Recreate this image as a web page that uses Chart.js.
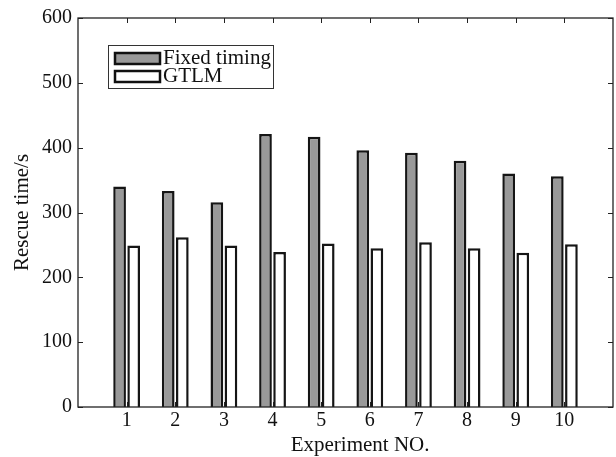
<!DOCTYPE html>
<html>
<head>
<meta charset="utf-8">
<script src="https://cdn.jsdelivr.net/npm/chart.js@4/dist/chart.umd.min.js"></script>
<style>
  html, body { margin: 0; padding: 0; background: #fff; }
  #wrap { width: 616px; height: 457px; }
</style>
</head>
<body>
<div id="wrap"><canvas id="rescueChart" width="616" height="457"></canvas></div>
<script>
const experiments = [1, 2, 3, 4, 5, 6, 7, 8, 9, 10];
const fixedTiming = [340, 333, 316, 421, 417, 396, 392, 380, 360, 356];
const gtlm = [249, 262, 249, 239, 252, 245, 254, 245, 238, 251];
const yTicks = [0, 100, 200, 300, 400, 500, 600];
const xTitle = 'Experiment NO.';

const FONT = 'Liberation Serif, Times New Roman, serif';

// box around the plot, MATLAB-style inward ticks, x label and the legend inside the axes
const axesBox = {
  id: 'axesBox',
  afterDraw(chart) {
    const { ctx, chartArea: a, scales: { x, y } } = chart;
    ctx.save();
    ctx.strokeStyle = '#222';
    ctx.lineWidth = 1.3;
    ctx.strokeRect(a.left, a.top, a.right - a.left, a.bottom - a.top);
    const len = 5;
    ctx.beginPath();
    yTicks.forEach(v => {
      const py = Math.round(y.getPixelForValue(v)) + 0.5;
      ctx.moveTo(a.left, py); ctx.lineTo(a.left + len, py);
      ctx.moveTo(a.right, py); ctx.lineTo(a.right - len, py);
    });
    experiments.forEach(v => {
      const px = Math.round(x.getPixelForValue(v)) + 0.5;
      ctx.moveTo(px, a.bottom); ctx.lineTo(px, a.bottom - len);
      ctx.moveTo(px, a.top); ctx.lineTo(px, a.top + len);
    });
    ctx.lineWidth = 1;
    ctx.stroke();

    // x axis label, sitting a little right of the axes centre
    ctx.font = '21px ' + FONT;
    ctx.fillStyle = '#111';
    ctx.textAlign = 'center';
    ctx.textBaseline = 'middle';
    ctx.fillText(xTitle, x.getPixelForValue(5.8), a.bottom + 38);

    // legend
    const lx = a.left + 30, ly = a.top + 27, lw = 165, lh = 43;
    ctx.textAlign = 'left';
    ctx.lineWidth = 1;
    ctx.strokeStyle = '#333';
    ctx.strokeRect(lx + 0.5, ly + 0.5, lw, lh);
    chart.data.datasets.forEach((ds, i) => {
      const ry = ly + 8 + i * 18;
      ctx.fillStyle = ds.backgroundColor;
      ctx.fillRect(lx + 7, ry, 45, 11);
      ctx.lineWidth = 2.5;
      ctx.strokeStyle = '#111';
      ctx.strokeRect(lx + 7, ry, 45, 11);
      ctx.fillStyle = '#111';
      ctx.fillText(ds.label, lx + 55, ry + 5);
    });
    ctx.restore();
  }
};

new Chart(document.getElementById('rescueChart'), {
  type: 'bar',
  data: {
    datasets: [
      {
        label: 'Fixed timing',
        data: experiments.map((e, i) => ({ x: e, y: fixedTiming[i] })),
        backgroundColor: '#999999',
        borderColor: '#151515',
        borderWidth: 2.5
      },
      {
        label: 'GTLM',
        data: experiments.map((e, i) => ({ x: e, y: gtlm[i] })),
        backgroundColor: '#ffffff',
        borderColor: '#151515',
        borderWidth: 2.5
      }
    ]
  },
  options: {
    responsive: false,
    animation: false,
    categoryPercentage: 0.58,
    barPercentage: 0.9,
    layout: { padding: { top: 17, right: 3, left: 0, bottom: 0 } },
    plugins: { legend: { display: false }, tooltip: { enabled: false } },
    scales: {
      x: {
        type: 'linear',
        min: 0,
        max: 11,
        offset: false,
        afterFit(s) { s.height = 50; },
        grid: { display: false, drawTicks: false },
        border: { display: false },
        ticks: {
          stepSize: 1,
          autoSkip: false,
          maxRotation: 0,
          padding: 2,
          color: '#111',
          font: { family: FONT, size: 20 },
          callback: v => (experiments.includes(v) ? String(v) : '')
        }
      },
      y: {
        min: 0,
        max: 600,
        afterFit(s) { s.width = 78; },
        grid: { display: false, drawTicks: false },
        border: { display: false },
        ticks: {
          stepSize: 100,
          padding: 6,
          color: '#111',
          font: { family: FONT, size: 20 }
        },
        title: {
          display: true,
          text: 'Rescue time/s',
          color: '#111',
          font: { family: FONT, size: 21 },
          padding: { top: 10, bottom: 0 }
        }
      }
    }
  },
  plugins: [axesBox]
});
</script>
</body>
</html>
